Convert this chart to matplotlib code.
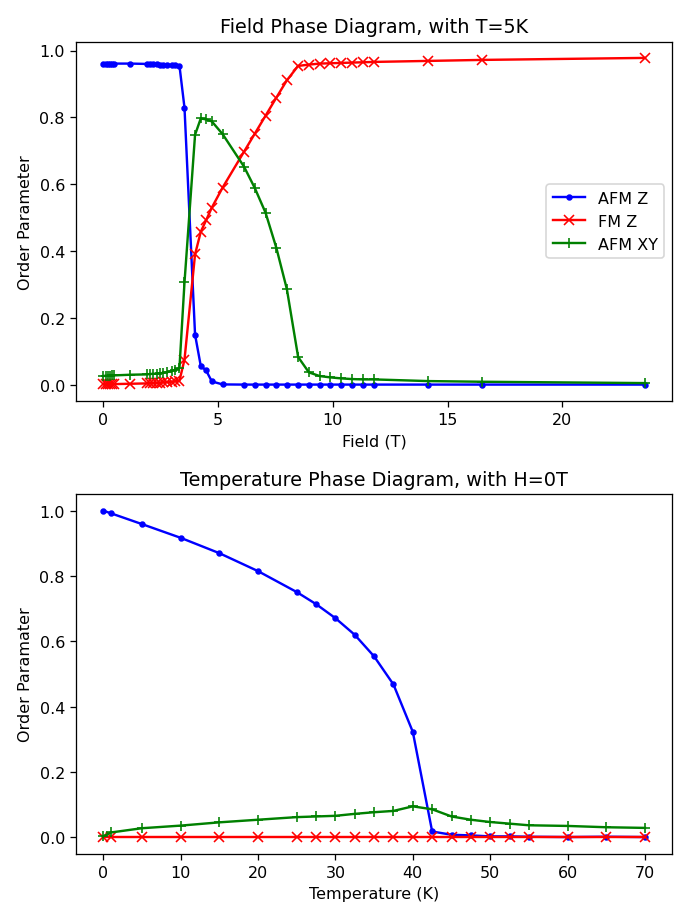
import matplotlib
matplotlib.use("Agg")
import matplotlib.pyplot as plt

# ---- Field phase diagram (T = 5 K) ----
field = [0, 0.1, 0.2, 0.3, 0.4, 0.47, 1.18, 1.89, 2.04, 2.18, 2.33, 2.47, 2.62,
         2.79, 2.98, 3.13, 3.32, 3.54, 4.0, 4.25, 4.48, 4.73, 5.2, 6.13, 6.6,
         7.07, 7.54, 8.0, 8.49, 8.96, 9.43, 9.9, 10.37, 10.85, 11.32, 11.79,
         14.15, 16.5, 23.6]
afm_z_h = [0.961, 0.961, 0.961, 0.961, 0.961, 0.961, 0.961, 0.960, 0.960, 0.959,
           0.959, 0.958, 0.958, 0.957, 0.957, 0.956, 0.955, 0.829, 0.150, 0.056,
           0.043, 0.010, 0.001, 0.0005, 0.0005, 0.0005, 0.0005, 0.0005, 0.0005,
           0.0005, 0.0005, 0.0005, 0.0005, 0.0005, 0.0005, 0.0005, 0.0005,
           0.0005, 0.0005]
fm_z_h = [0.002, 0.001, 0.002, 0.001, 0.002, 0.002, 0.003, 0.004, 0.005, 0.005,
          0.006, 0.006, 0.007, 0.008, 0.009, 0.010, 0.012, 0.075, 0.390, 0.458,
          0.492, 0.530, 0.590, 0.697, 0.751, 0.805, 0.859, 0.911, 0.954, 0.958,
          0.961, 0.962, 0.963, 0.964, 0.965, 0.966, 0.969, 0.972, 0.978]
afm_xy_h = [0.026, 0.027, 0.027, 0.027, 0.028, 0.028, 0.030, 0.031, 0.032, 0.033,
            0.033, 0.034, 0.036, 0.038, 0.041, 0.045, 0.050, 0.306, 0.748, 0.797,
            0.794, 0.788, 0.750, 0.653, 0.589, 0.515, 0.410, 0.286, 0.083, 0.037,
            0.026, 0.022, 0.019, 0.017, 0.016, 0.016, 0.011, 0.009, 0.005]

# ---- Temperature phase diagram (H = 0 T) ----
temp = [0, 1, 5, 10, 15, 20, 25, 27.5, 30, 32.5, 35, 37.5, 40, 42.5, 45, 47.5,
        50, 52.5, 55, 60, 65, 70]
afm_z_t = [1.0, 0.992, 0.959, 0.917, 0.870, 0.815, 0.751, 0.714, 0.671, 0.620,
           0.554, 0.468, 0.323, 0.018, 0.008, 0.006, 0.003, 0.003, 0.002, 0.001,
           0.002, 0.001]
fm_z_t = [0.0, 0.0, 0.0, 0.0, 0.0, 0.0, 0.0, 0.0, 0.0, 0.0, 0.0, 0.0, 0.0, 0.0,
          0.0, 0.0, 0.0, 0.0, 0.0, 0.0, 0.0, 0.0]
afm_xy_t = [0.003, 0.015, 0.028, 0.036, 0.046, 0.054, 0.062, 0.064, 0.066, 0.072,
            0.077, 0.081, 0.095, 0.086, 0.064, 0.054, 0.047, 0.042, 0.037, 0.035,
            0.031, 0.029]

labels = ["AFM Z", "FM Z", "AFM XY"]

DPI = 115.36
fig, (ax1, ax2) = plt.subplots(2, 1, figsize=(6.0, 8.0), dpi=DPI)
fig.subplots_adjust(left=0.11, right=0.971, top=0.954, bottom=0.074, hspace=0.26)

ax1.plot(field, afm_z_h, "b.-", label=labels[0])
ax1.plot(field, fm_z_h, "rx-", label=labels[1])
ax1.plot(field, afm_xy_h, "g+-", label=labels[2])
ax1.set_title("Field Phase Diagram, with T=5K")
ax1.set_xlabel("Field (T)")
ax1.set_ylabel("Order Parameter")
ax1.legend(loc="center right")

ax2.plot(temp, afm_z_t, "b.-")
ax2.plot(temp, fm_z_t, "rx-")
ax2.plot(temp, afm_xy_t, "g+-")
ax2.set_title("Temperature Phase Diagram, with H=0T")
ax2.set_xlabel("Temperature (K)")
ax2.set_ylabel("Order Paramater")

fig.savefig("out.png", dpi=DPI)
